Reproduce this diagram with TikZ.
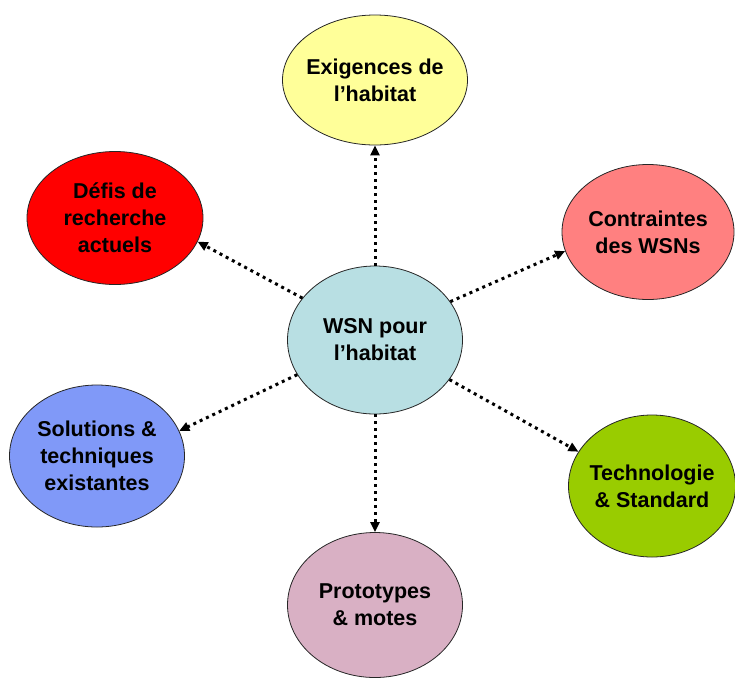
\documentclass[tikz,border=0pt]{standalone}
\usepackage{fontspec}
\setmainfont{Liberation Sans}
\usepackage{xcolor}
\usetikzlibrary{shapes.geometric, arrows.meta, positioning}

\definecolor{exigcol}{HTML}{FFFF99}
\definecolor{defiscol}{HTML}{FF0000}
\definecolor{contrcol}{HTML}{FF8080}
\definecolor{wsncol}{HTML}{B8DFE3}
\definecolor{solcol}{HTML}{8099F8}
\definecolor{technocol}{HTML}{99CC00}
\definecolor{protocol}{HTML}{D9B0C4}

\begin{document}
\begin{tikzpicture}[
    node distance=260pt, on grid,
    bubble/.style={ellipse, draw=black!85, line width=0.8pt, inner sep=-14pt, align=center,
        font=\fontsize{21.5}{27}\selectfont\bfseries},
    arrow/.style={-{Triangle[length=10pt,width=9pt]}, line width=3pt, dash pattern=on 3pt off 4pt}
]
    \useasboundingbox (0pt,0pt) rectangle (735pt,-678pt);
    \node[bubble, fill=wsncol, minimum width=175pt, minimum height=148pt] (wsn) at (375pt,-340pt) {WSN pour\\l’habitat};
    \node[bubble, fill=exigcol, above=260pt of wsn, minimum width=185pt, minimum height=130pt] (exig) {Exigences de\\l’habitat};
    \node[bubble, fill=defiscol, above left=122pt and 260pt of wsn, minimum width=176pt, minimum height=133pt] (defis) {Défis de\\recherche\\actuels};
    \node[bubble, fill=contrcol, above right=108pt and 273pt of wsn, minimum width=172pt, minimum height=135pt] (contr) {Contraintes\\des WSNs};
    \node[bubble, fill=solcol, below left=116pt and 278pt of wsn, minimum width=175pt, minimum height=142pt] (sol) {Solutions \&\\techniques\\existantes};
    \node[bubble, fill=technocol, below right=146pt and 277pt of wsn, minimum width=167pt, minimum height=142pt] (techno) {Technologie\\\& Standard};
    \node[bubble, fill=protocol, below=265pt of wsn, minimum width=175pt, minimum height=145pt] (proto) {Prototypes\\\& motes};

    \draw[arrow] (wsn.90) -- (exig.270);
    \draw[arrow] (wsn.150) -- (defis.-16);
    \draw[arrow] (wsn.27) -- (contr.193);
    \draw[arrow] (wsn.204) -- (sol.17);
    \draw[arrow] (wsn.-28) -- (techno.155);
    \draw[arrow] (wsn.270) -- (proto.90);
\end{tikzpicture}
\end{document}
